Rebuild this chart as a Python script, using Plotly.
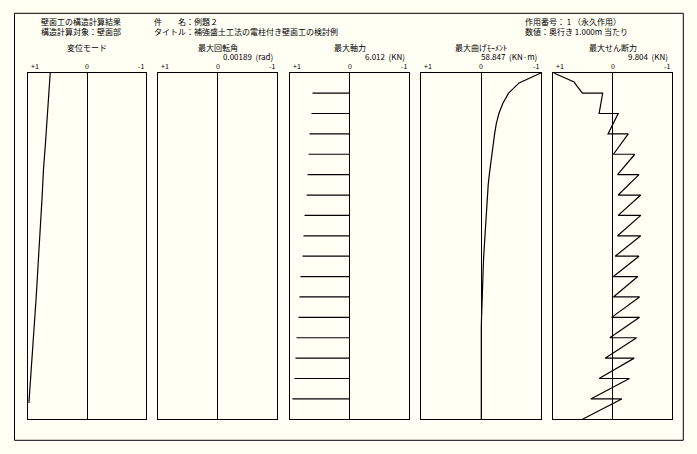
import plotly.graph_objects as go

W, H = 697, 454

# ---------------- data ----------------
header_left = ["壁面工の構造計算結果", "構造計算対象：壁面部"]
header_mid = ["件　　名：例題２", "タイトル：補強盛土工法の電柱付き壁面工の検討例"]
header_right = ["作用番号： 1 （永久作用）", "数値：奥行き 1.000m 当たり"]

panel_titles = ["変位モード", "最大回転角", "最大軸力", "最大曲げﾓｰﾒﾝﾄ", "最大せん断力"]
panel_values = ["", "0.00189  (rad)", "6.012  (KN)", "58.847  (KN·m)", "9.804  (KN)"]
tick_labels = ["+1", "0", "-1"]

# displacement mode (normalised), depth in layer units (0 = top, 17 = bottom)
disp_z = [0.0, 1.5, 3.45, 4.8, 6.25, 11.15, 12.8, 14.4, 15.7, 16.2]
disp_v = [0.62, 0.65, 0.70, 0.735, 0.76, 0.86, 0.90, 0.94, 0.975, 0.98]

# max axial force per layer (normalised)
axial_z = [1, 2, 3, 4, 5, 6, 7, 8, 9, 10, 11, 12, 13, 14, 15, 16]
axial_v = [0.627, 0.644, 0.677, 0.694, 0.71, 0.727, 0.761, 0.778,
           0.795, 0.829, 0.846, 0.862, 0.896, 0.913, 0.93, 0.963]

# bending moment (normalised)
moment_z = [0, 0.5, 1, 1.5, 2, 2.5, 3, 3.5, 4, 4.5, 5, 5.5, 6, 6.5, 7, 7.5, 8,
            8.5, 9, 9.5, 10, 10.5, 11, 11.5, 12, 12.5, 13, 13.5, 14, 14.5, 15,
            15.5, 16, 16.5, 17]
moment_v = [-1.0, -0.63, -0.455, -0.36, -0.293, -0.25, -0.222, -0.197, -0.175,
            -0.152, -0.133, -0.115, -0.103, -0.093, -0.08, -0.068, -0.058,
            -0.05, -0.04, -0.033, -0.025, -0.018, -0.008, -0.006, -0.004,
            0.0, 0.0, 0.0, 0.002, 0.008, 0.008, 0.008, 0.0, 0.0, 0.0]

# shear force (normalised)
shear_z = [0, 0.45, 0.65, 1, 1, 2, 2, 3, 3, 4, 4, 5, 5, 6, 6, 7, 7, 8, 8,
           9, 9, 10, 10, 11, 11, 12, 12, 13, 13, 14, 14, 15, 15, 16, 16, 17]
shear_v = [1.0, 0.65, 0.605, 0.51, 0.17, 0.23, -0.09, 0.08, -0.26, -0.01,
           -0.37, -0.08, -0.44, -0.09, -0.47, -0.09, -0.47, -0.08, -0.47,
           -0.04, -0.44, -0.01, -0.42, -0.01, -0.45, 0.02, -0.45, 0.05, -0.40,
           0.13, -0.36, 0.23, -0.28, 0.37, -0.15, 0.51]

# ---------------- layout helpers ----------------
BG = "#FFFFF4"
FONT = "Noto Sans CJK JP"
panel_x = [(27.7, 146.3), (158.3, 277.3), (290.3, 409.3), (421.3, 541.3), (553.3, 672.3)]
box_top, box_bot = 72.7, 419.3


def px(x):
    return x / W


def py(y):
    return 1 - y / H


fig = go.Figure()
layout = dict(
    width=W, height=H, autosize=False,
    margin=dict(l=0, r=0, t=0, b=0),
    paper_bgcolor=BG, plot_bgcolor=BG,
    showlegend=False,
    font=dict(family=FONT, size=8, color="black"),
)

for i, (l, r) in enumerate(panel_x):
    n = "" if i == 0 else str(i + 1)
    layout["xaxis" + n] = dict(
        domain=[px(l), px(r)], range=[1, -1], anchor="y" + n,
        showgrid=False, showticklabels=False, ticks="",
        showline=True, mirror=True, linecolor="black", linewidth=1,
        zeroline=True, zerolinecolor="black", zerolinewidth=1, fixedrange=True,
    )
    layout["yaxis" + n] = dict(
        domain=[py(box_bot), py(box_top)], range=[17, 0], anchor="x" + n,
        showgrid=False, showticklabels=False, ticks="",
        showline=True, mirror=True, linecolor="black", linewidth=1,
        zeroline=False, fixedrange=True,
    )

line = dict(color="black", width=1.2)

fig.add_trace(go.Scatter(x=disp_v, y=disp_z, mode="lines", line=line,
                         xaxis="x", yaxis="y", hoverinfo="skip"))

# rotation panel: no curve drawn in the reference, only the frame
fig.add_trace(go.Scatter(x=[None], y=[None], mode="lines", line=line,
                         xaxis="x2", yaxis="y2", hoverinfo="skip"))

ax_x, ax_y = [], []
for z, v in zip(axial_z, axial_v):
    ax_x += [0, v, None]
    ax_y += [z, z, None]
fig.add_trace(go.Scatter(x=ax_x, y=ax_y, mode="lines", line=line,
                         xaxis="x3", yaxis="y3", hoverinfo="skip"))

fig.add_trace(go.Scatter(x=moment_v, y=moment_z, mode="lines", line=line,
                         xaxis="x4", yaxis="y4", hoverinfo="skip"))

fig.add_trace(go.Scatter(x=shear_v, y=shear_z, mode="lines", line=line,
                         xaxis="x5", yaxis="y5", hoverinfo="skip"))

ann = []


def text(x, y, s, anchor="left", size=8):
    ann.append(dict(x=px(x), y=py(y), xref="paper", yref="paper", text=s,
                    showarrow=False, xanchor=anchor, yanchor="middle",
                    align=anchor if anchor != "center" else "center",
                    font=dict(family=FONT, size=size, color="black")))


text(39, 26.5, "<br>".join(header_left))
text(152, 26.5, "<br>".join(header_mid))
text(523, 26.5, "<br>".join(header_right))

for (l, r), t, v in zip(panel_x, panel_titles, panel_values):
    c = (l + r) / 2
    text(c, 47, t, "center")
    if v:
        text(r - 2, 57, v, "right")
    text(l + 1, 66, tick_labels[0], "left", 7)
    text(c, 66, tick_labels[1], "center", 7)
    text(r, 66, tick_labels[2], "right", 7)

layout["annotations"] = ann
layout["shapes"] = [dict(type="rect", xref="paper", yref="paper",
                         x0=px(14.5), x1=px(683.3), y0=py(440.3), y1=py(13.3),
                         line=dict(color="black", width=1))]
fig.update_layout(**layout)
fig.write_html("out.html", config={"displayModeBar": False},
               post_script="document.body.style.margin='0';document.body.style.overflow='hidden';")
